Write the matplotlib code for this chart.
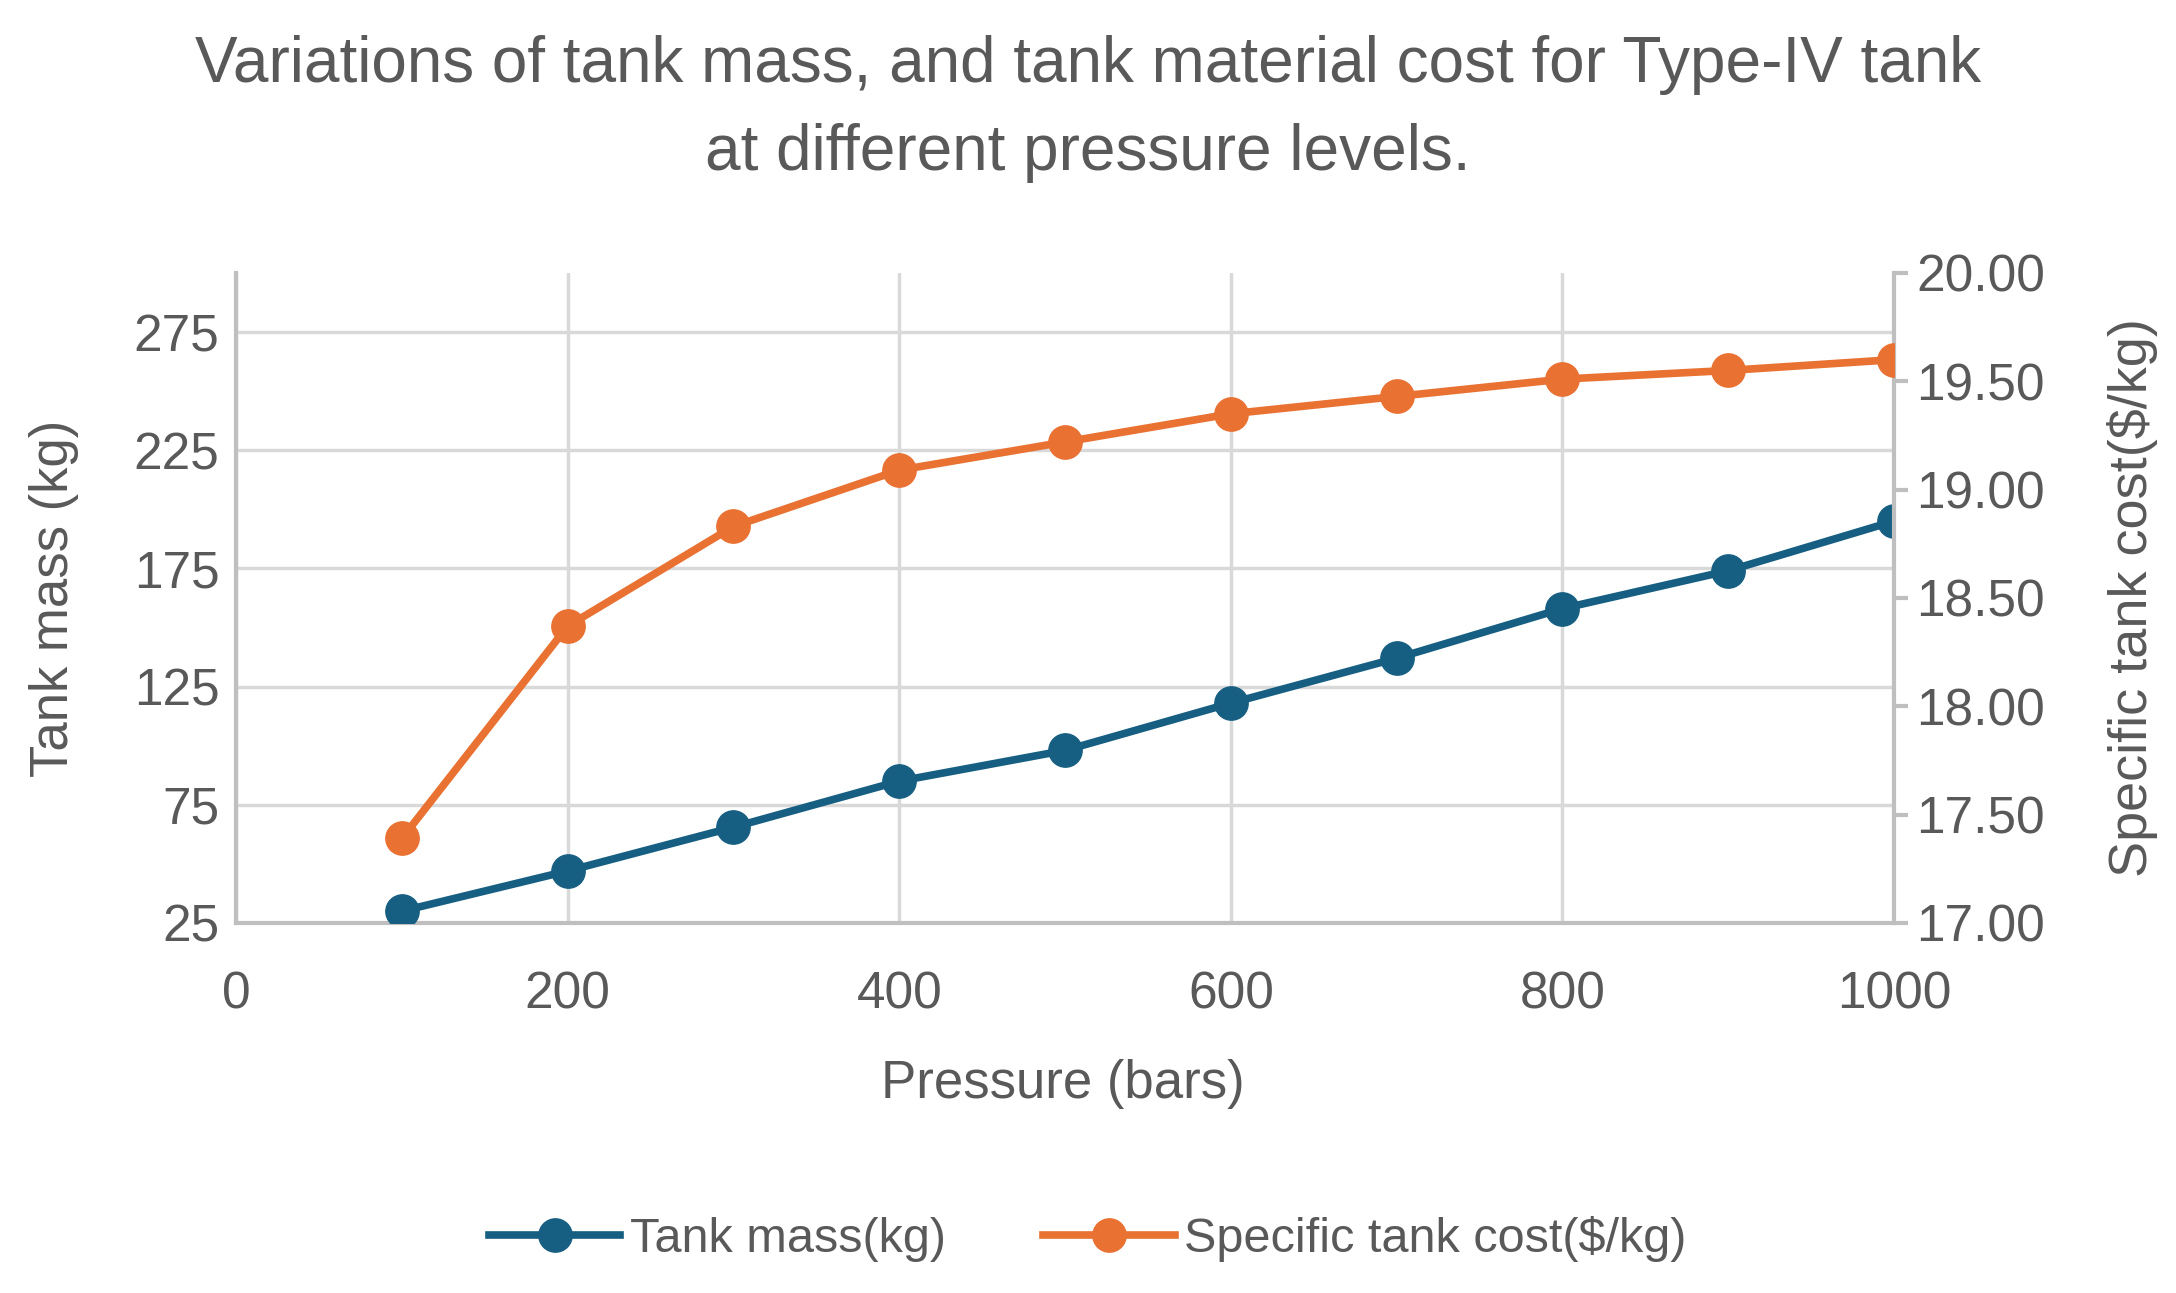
import matplotlib
matplotlib.use("Agg")
import matplotlib.pyplot as plt

# data
pressure = [100, 200, 300, 400, 500, 600, 700, 800, 900, 1000]
tankMass = [30, 47, 65.5, 85, 98, 118, 137, 158, 174, 195]
specificCost = [17.39, 18.37, 18.83, 19.09, 19.22, 19.35, 19.43, 19.51, 19.55, 19.60]

massTicks = [25, 75, 125, 175, 225, 275]
costTicks = [17.0, 17.5, 18.0, 18.5, 19.0, 19.5, 20.0]
pressureTicks = [0, 200, 400, 600, 800, 1000]

blue = "#175f82"
orange = "#e97132"
textGray = "#595959"
gridGray = "#d9d9d9"
spineGray = "#bfbfbf"

plt.rcParams["font.family"] = ["Liberation Sans", "DejaVu Sans"]

fig = plt.figure(figsize=(21.76, 12.93), dpi=100)
ax = fig.add_axes([0.1085, 0.2862, 0.7619, 0.5027])
ax2 = ax.twinx()

l1, = ax.plot(pressure, tankMass, color=blue, lw=5.5, marker="o", ms=24, label="Tank mass(kg)", zorder=3)
l2, = ax2.plot(pressure, specificCost, color=orange, lw=5.5, marker="o", ms=24, label="Specific tank cost($/kg)", zorder=3)

ax.set_xlim(0, 1000)
ax.set_ylim(25, 300)
ax2.set_ylim(17, 20)
ax.set_xticks(pressureTicks)
ax.set_yticks(massTicks)
ax2.set_yticks(costTicks)
ax2.set_yticklabels(["%.2f" % v for v in costTicks])

ax.grid(True, color=gridGray, lw=2.5)
ax.set_axisbelow(True)

for a in (ax, ax2):
    for s in a.spines.values():
        s.set_visible(False)
ax.spines["left"].set_visible(True)
ax.spines["bottom"].set_visible(True)
ax2.spines["right"].set_visible(True)
for s in (ax.spines["left"], ax.spines["bottom"], ax2.spines["right"]):
    s.set_color(spineGray)
    s.set_linewidth(3)

ax.tick_params(axis="x", length=0, pad=34, labelsize=37, labelcolor=textGray)
ax.tick_params(axis="y", length=0, pad=12, labelsize=37, labelcolor=textGray)
ax2.tick_params(axis="y", length=10, width=3, color=spineGray, pad=6, labelsize=37, labelcolor=textGray)

ax.set_xlabel("Pressure (bars)", fontsize=38, color=textGray)
ax.set_ylabel("Tank mass (kg)", fontsize=38, color=textGray)
ax2.set_ylabel("Specific tank cost($/kg)", fontsize=39, color=textGray)
ax.xaxis.set_label_coords(0.4988, -0.209)
ax.yaxis.set_label_coords(-0.095, 0.5)
ax2.yaxis.set_label_coords(1.1285, 0.5)

fig.text(0.5, 0.95, "Variations of tank mass, and tank material cost for Type-IV tank",
         ha="center", va="center", fontsize=46, color=textGray)
fig.text(0.5, 0.882, "at different pressure levels.",
         ha="center", va="center", fontsize=46, color=textGray)

fig.legend(handles=[l1, l2], loc="center", bbox_to_anchor=(0.5, 0.0417), ncol=2,
           frameon=False, handlelength=2.7, columnspacing=2.0, handletextpad=0.2,
           prop={"size": 35}, labelcolor=textGray)

fig.savefig("out.png", dpi=100)
